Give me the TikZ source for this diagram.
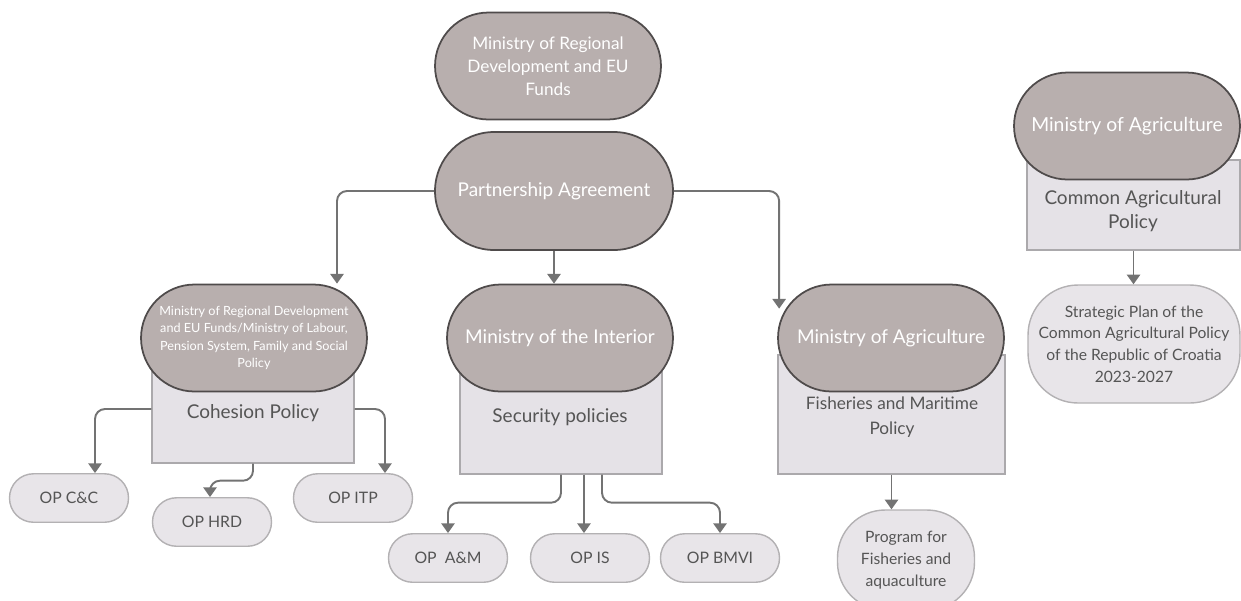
\documentclass[tikz,border=0pt]{standalone}
\usepackage{fontspec}
\setmainfont{Lato}
\usetikzlibrary{arrows.meta, calc}
\definecolor{ministry}{HTML}{B8AFAE}
\definecolor{ministryline}{HTML}{4F4B4B}
\definecolor{policy}{HTML}{E5E2E7}
\definecolor{policyline}{HTML}{ABA9AC}
\definecolor{programme}{HTML}{E8E5E9}
\definecolor{programmeline}{HTML}{B3B1B3}
\definecolor{flow}{HTML}{737373}
\definecolor{darktext}{HTML}{555555}
\tikzset {
    x=0.02cm, y=-0.02cm,
    >={Triangle[width=7.5pt,length=5.5pt]},
    ministry/.style={draw=ministryline, line width=1pt, fill=ministry, text=white,
        align=center, rounded corners=1.07cm, minimum width=4.52cm, minimum height=2.14cm,
        inner sep=2pt, font=\fontsize{10.8}{13}\selectfont},
    policybox/.style={draw=policyline, line width=0.8pt, fill=policy, text=darktext,
        inner sep=0pt},
    policytext/.style={text=darktext, align=center, font=\fontsize{10.8}{14}\selectfont},
    opbox/.style={draw=programmeline, line width=0.8pt, fill=programme, text=darktext,
        align=center, rounded corners=0.48cm, minimum width=2.38cm, minimum height=0.97cm,
        font=\fontsize{9}{10}\selectfont},
    flowline/.style={->, draw=flow, line width=1.1pt, rounded corners=0.2cm}
}
\begin{document}
\begin{tikzpicture}
    \useasboundingbox (0,0) rectangle (1241,600);

    % top of the tree
    \node[ministry, font=\fontsize{9.8}{13}\selectfont] (mrd) at (548,66) {Ministry of Regional\\Development and EU\\Funds};
    \node[ministry, minimum width=4.76cm, minimum height=2.36cm, rounded corners=1.18cm] (pa) at (554,191) {Partnership Agreement};

    % cohesion policy
    \node[policybox, minimum width=4.04cm, minimum height=2.46cm] (cr) at (253,401.5) {};
    \node[policytext] (ct) at (253,413) {Cohesion Policy};
    \node[ministry, font=\fontsize{7.2}{10}\selectfont] (lm) at (254,338) {Ministry of Regional Development\\and EU Funds/Ministry of Labour,\\Pension System, Family and Social\\Policy};

    % security policies
    \node[policybox, minimum width=4.04cm, minimum height=2.68cm] (sr) at (561,407) {};
    \node[policytext] (st) at (560,417) {Security policies};
    \node[ministry] (mi) at (560,338) {Ministry of the Interior};

    % fisheries
    \node[policybox, minimum width=4.54cm, minimum height=2.38cm] (fr) at (891.5,414.5) {};
    \node[policytext, font=\fontsize{9.8}{14}\selectfont] (ft) at (892,417) {Fisheries and Maritime\\Policy};
    \node[ministry] (ma) at (891,338) {Ministry of Agriculture};

    % common agricultural policy
    \node[policybox, minimum width=4.26cm, minimum height=1.8cm] (car) at (1133.5,205) {};
    \node[policytext] (cat) at (1133,211) {Common Agricultural\\Policy};
    \node[ministry, font=\fontsize{11}{13}\selectfont] (ra) at (1127,126) {Ministry of Agriculture};

    % operational programmes
    \node[opbox] (occ) at (69,498) {OP C\&C};
    \node[opbox] (ohrd) at (212,522) {OP HRD};
    \node[opbox] (oitp) at (353,498) {OP ITP};
    \node[opbox] (oam) at (448,558) {OP~~A\&M};
    \node[opbox] (ois) at (590,558) {OP IS};
    \node[opbox] (obmvi) at (720,558) {OP BMVI};
    \node[opbox, minimum width=2.74cm, minimum height=2cm, rounded corners=0.95cm,
        font=\fontsize{8.9}{12.5}\selectfont] (pf) at (906,560) {Program for\\Fisheries and\\aquaculture};
    \node[opbox, minimum width=4.24cm, minimum height=2.36cm, rounded corners=1cm,
        font=\fontsize{8.9}{12.3}\selectfont] (sp) at (1134,344) {Strategic Plan of the\\Common Agricultural Policy\\of the Republic of Croatia\\2023-2027};

    % connectors
    \draw[flowline] (pa.west) -| ($(lm.north)+(83,0)$);
    \draw[flowline] (pa.south) -- (pa.south |- mi.north);
    \draw[flowline] (pa.east) -| ($(ma.north west)+(2,25)$);

    \draw[flowline] ($(cr.west)+(0,7.5)$) -| ($(occ.north)+(26,0)$);
    \draw[flowline] (cr.south) -- ++(0,17) -| ($(ohrd.north)-(2,0)$);
    \draw[flowline] ($(cr.east)+(0,7.5)$) -| ($(oitp.north)+(32,0)$);

    \draw[flowline] ($(sr.south)+(0,0)$) -- ++(0,28) -| (oam.north);
    \draw[flowline] ($(sr.south)+(23,0)$) coordinate (s2) -- (s2 |- ois.north);
    \draw[flowline] ($(sr.south)+(41,0)$) -- ++(0,28) -| (obmvi.north);

    \draw[flowline] (fr.south) -- (fr.south |- pf.north);
    \draw[flowline] (car.south) -- (car.south |- sp.north);
\end{tikzpicture}
\end{document}
